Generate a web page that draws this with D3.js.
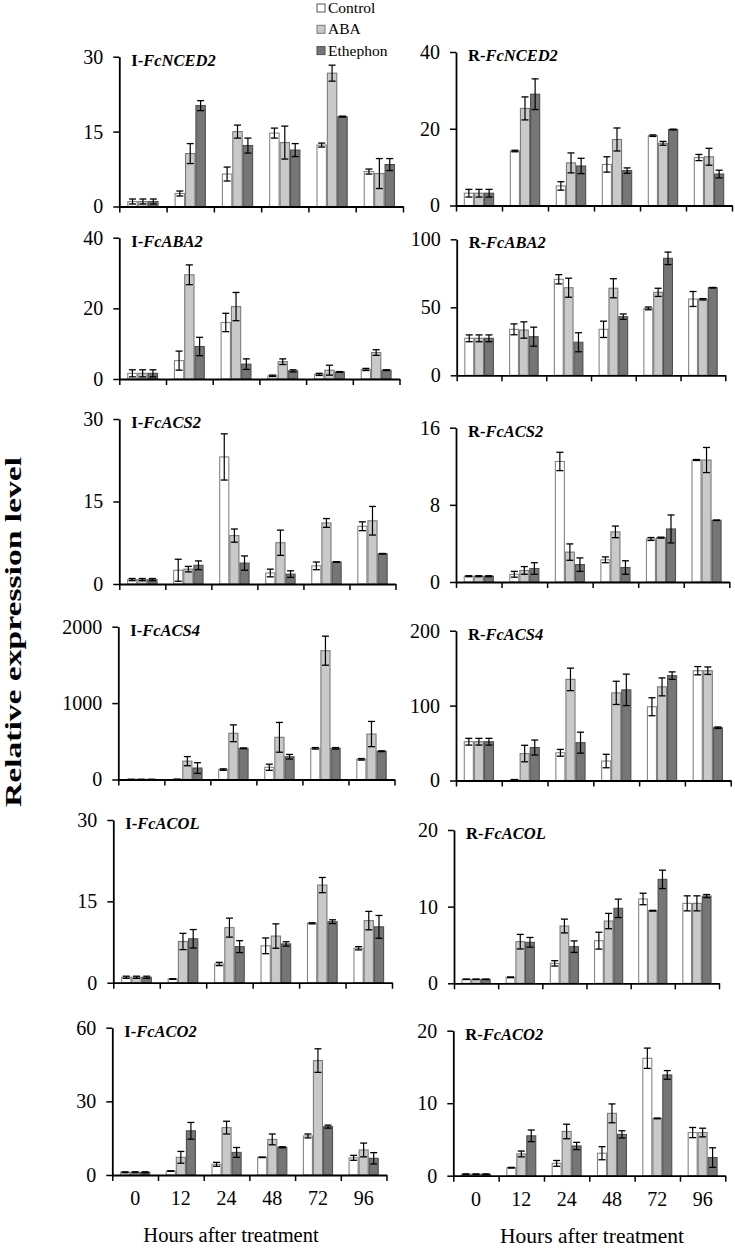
<!DOCTYPE html>
<html><head><meta charset="utf-8">
<script src="https://cdn.jsdelivr.net/npm/d3@7/dist/d3.min.js"></script>
<style>
html,body{margin:0;padding:0;background:#fff;}
svg text{font-family:"Liberation Serif","Times New Roman",serif;fill:#000;}
</style></head>
<body>
<svg id="chart" width="735" height="1249"></svg>
<script>
const categories = ["0","12","24","48","72","96"];
const seriesNames = ["Control","ABA","Ethephon"];

// Panel values: [Control, ABA, Ethephon] x hours
const iNCED2Mean = [[1,2.6,6.5,14.7,12.3,7.0],[1,10.6,15.0,12.8,26.7,6.6],[1,20.2,12.2,11.3,18.0,8.4]];
const iNCED2Err  = [[0.5,0.5,1.4,1.0,0.4,0.5],[0.5,2.0,1.3,3.3,1.6,3.0],[0.5,1.0,1.5,1.3,0.1,1.2]];
const rNCED2Mean = [[3.2,14.2,5.1,10.7,18.2,12.5],[3.2,25.3,11.1,17.2,16.2,12.7],[3.2,29.0,10.3,9.1,19.8,8.2]];
const rNCED2Err  = [[1,0.2,1.1,2,0.2,0.8],[1,3,2.6,3,0.5,2.2],[1,4,2,0.7,0.1,1]];
const iABA2Mean = [[1.6,5.2,16,0.9,1.3,2.7],[1.6,29.5,20.5,4.9,2.5,7.5],[1.6,9.2,4.2,2.3,2.0,2.5]];
const iABA2Err  = [[1,2.7,2.6,0.2,0.3,0.3],[1,2.8,4,0.8,1.4,0.8],[1,2.6,1.5,0.3,0.1,0.1]];
const rABA2Mean = [[27.2,33.8,70.6,33.8,49.2,56.1],[27.2,33.3,64.4,64,61,55.9],[27.2,28.4,24.3,43.1,86,64.4]];
const rABA2Err  = [[2.5,4,3.4,6,1,5.5],[2.5,6,7,7,3,0.5],[2.5,7,7,2,4.6,0.2]];
const iACS2Mean = [[0.8,2.5,23.1,2.0,3.3,10.5],[0.8,2.7,8.8,7.5,11.1,11.5],[0.8,3.4,3.8,1.8,4.0,5.5]];
const iACS2Err  = [[0.2,2,4.2,0.7,0.7,0.8],[0.2,0.5,1.2,2.3,0.8,2.6],[0.2,0.8,1.3,0.6,0.05,0.05]];
const rACS2Mean = [[0.6,0.8,12.5,2.3,4.46,12.65],[0.6,1.2,3.1,5.2,4.6,12.65],[0.6,1.4,1.8,1.5,5.5,6.4]];
const rACS2Err  = [[0.05,0.3,0.95,0.3,0.15,0.05],[0.05,0.4,0.85,0.6,0.05,1.3],[0.05,0.6,0.7,0.7,1.45,0.02]];
const iACS4Mean = [[1,2,130,160,408,264],[1,240,605,552,1686,595],[1,150,408,298,408,370]];
const iACS4Err  = [[0,0,10,40,10,10],[0,60,110,195,190,165],[0,70,5,30,10,5]];
const rACS4Mean = [[51.8,1,37,26,98.5,146.6],[51.8,36,135,117,125,146.6],[51.8,44,50.5,121,140,70.5]];
const rACS4Err  = [[4.5,0.3,4.5,9,12,5.5],[4.5,11,15,15.5,12,5],[4.5,10,14,21,5,1]];
const iACOLMean = [[1.0,0.68,3.45,6.8,10.95,6.35],[1.0,7.6,10.15,8.6,18.0,11.45],[1.0,8.1,6.65,7.15,11.25,10.3]];
const iACOLErr  = [[0.2,0.05,0.3,1.45,0.1,0.3],[0.2,1.5,1.75,2.25,1.4,1.7],[0.2,1.7,1.1,0.4,0.35,2.1]];
const rACOLMean = [[0.52,0.78,2.6,5.56,11.0,10.43],[0.52,5.43,7.47,8.12,9.47,10.43],[0.52,5.35,4.78,9.78,13.56,11.38]];
const rACOLErr  = [[0.03,0.05,0.35,1.1,0.75,0.98],[0.03,0.95,0.9,1.0,0.05,0.98],[0.03,0.63,0.75,1.2,1.2,0.2]];
const iACO2Mean = [[1.1,1.6,4.35,7.2,15.9,7.0],[1.1,7.2,19.3,14.5,46.6,10.2],[1.1,18.0,9.2,11.3,19.7,6.8]];
const iACO2Err  = [[0.2,0.1,0.8,0.1,0.8,1],[0.2,2.4,2.6,2.2,4.8,2.8],[0.2,3.4,2,0.2,0.6,2.3]];
const rACO2Mean = [[0.2,1.1,1.7,3.1,16.2,5.95],[0.2,3.0,6.1,8.6,7.9,5.95],[0.2,5.5,4.1,5.7,13.9,2.5]];
const rACO2Err  = [[0.05,0.05,0.4,0.9,1.4,0.7],[0.05,0.4,1,1.3,0.05,0.6],[0.05,0.8,0.5,0.5,0.6,1.35]];

const panelTitles = [["I-","FcNCED2"],["R-","FcNCED2"],["I-","FcABA2"],["R-","FcABA2"],["I-","FcACS2"],["R-","FcACS2"],["I-","FcACS4"],["R-","FcACS4"],["I-","FcACOL"],["R-","FcACOL"],["I-","FcACO2"],["R-","FcACO2"]];
const yTickSets = [[0,15,30],[0,20,40],[0,20,40],[0,50,100],[0,15,30],[0,8,16],[0,1000,2000],[0,100,200],[0,15,30],[0,10,20],[0,30,60],[0,10,20]];
const means = [iNCED2Mean,rNCED2Mean,iABA2Mean,rABA2Mean,iACS2Mean,rACS2Mean,iACS4Mean,rACS4Mean,iACOLMean,rACOLMean,iACO2Mean,rACO2Mean];
const errs  = [iNCED2Err,rNCED2Err,iABA2Err,rABA2Err,iACS2Err,rACS2Err,iACS4Err,rACS4Err,iACOLErr,rACOLErr,iACO2Err,rACO2Err];

// layout: [x0, x1, yTop, yZero]
const layout = [
  [119.3,403,56.7,206.5],[456,732,52,205.5],
  [119.3,399.5,237.7,379],[456.7,725.3,239.3,375.3],
  [119.3,395.5,419,584],[456,729.3,427.7,582],
  [118.3,394.5,626.7,779.5],[456,730.7,630.7,780.5],
  [113.3,392,820,982.7],[454,719,830,983.3],
  [112.3,386.5,1027.7,1175],[453.3,725.3,1030.7,1175.7]
];
const fills = ["#ffffff","#c9c9c9","#767676"];
const strokes = ["#858585","#7a7a7a","#4f4f4f"];

const svg = d3.select("#chart");

layout.forEach((L,pi)=>{
  const [x0,x1,yTop,y0] = L;
  const ticks = yTickSets[pi];
  const g = svg.append("g");
  const y = d3.scaleLinear().domain([0,ticks[2]]).range([y0,yTop]);
  const xb = d3.scaleBand().domain(categories).range([x0,x1]).paddingInner(0.34).paddingOuter(0.17);
  const xs = d3.scaleBand().domain(seriesNames).range([0,xb.bandwidth()]);
  const xLin = d3.scaleLinear().domain([0,categories.length]).range([x0,x1]);

  const data = [];
  seriesNames.forEach((s,si)=>categories.forEach((c,ci)=>{
    data.push({s,si,c,v:means[pi][si][ci],e:errs[pi][si][ci]});
  }));

  g.selectAll("rect.bar").data(data).enter().append("rect")
    .attr("x",d=>xb(d.c)+xs(d.s)+0.5)
    .attr("width",xs.bandwidth()-1)
    .attr("y",d=>y(d.v))
    .attr("height",d=>y(0)-y(d.v))
    .attr("fill",d=>fills[d.si]).attr("stroke",d=>strokes[d.si]).attr("stroke-width",1.1);

  const eb = g.selectAll("g.err").data(data).enter().append("g");
  const cx = d=>xb(d.c)+xs(d.s)+xs.bandwidth()/2;
  eb.append("line").attr("x1",cx).attr("x2",cx)
    .attr("y1",d=>y(d.v+d.e)).attr("y2",d=>y(Math.max(0,d.v-d.e)))
    .attr("stroke","#000").attr("stroke-width",1.2);
  [1,-1].forEach(sgn=>{
    eb.append("line").attr("x1",d=>cx(d)-3.5).attr("x2",d=>cx(d)+3.5)
      .attr("y1",d=>y(Math.max(0,d.v+sgn*d.e))).attr("y2",d=>y(Math.max(0,d.v+sgn*d.e)))
      .attr("stroke","#000").attr("stroke-width",1.3);
  });

  // y axis
  const ya = g.append("g").attr("transform",`translate(${x0},0)`)
    .call(d3.axisLeft(y).tickValues(ticks).tickFormat(d3.format("d")).tickSize(6).tickSizeOuter(0).tickPadding(10));
  ya.attr("font-family",null);
  ya.select(".domain").attr("stroke","#000").attr("stroke-width",1.8);
  ya.selectAll(".tick line").attr("stroke","#000").attr("stroke-width",1.5);
  ya.selectAll(".tick text").style("font-size","20px");

  // x axis with boundary ticks
  const xa = g.append("g").attr("transform",`translate(0,${y0})`)
    .call(d3.axisBottom(xLin).tickValues(d3.range(categories.length+1)).tickFormat("").tickSize(6).tickSizeOuter(0));
  xa.select(".domain").attr("stroke","#000").attr("stroke-width",1.8);
  xa.selectAll(".tick line").attr("stroke","#000").attr("stroke-width",1.5);

  if (pi>=10){
    const xl = g.append("g").attr("transform",`translate(0,${y0})`)
      .call(d3.axisBottom(xb).tickSize(0).tickPadding(16));
    xl.attr("font-family",null);
    xl.select(".domain").remove();
    xl.selectAll(".tick text").style("font-size","20px");
  }

  // title
  const t = g.append("text").attr("x",x0+12).attr("y",yTop+9)
    .style("font-size","16.5px").style("font-weight","bold");
  t.append("tspan").text(panelTitles[pi][0]);
  t.append("tspan").style("font-style","italic").text(panelTitles[pi][1]);
});

// x axis titles
svg.append("text").attr("x",231).attr("y",1242).attr("text-anchor","middle").style("font-size","20.5px").text("Hours after treatment");
svg.append("text").attr("x",592).attr("y",1243).attr("text-anchor","middle").style("font-size","21.5px").text("Hours after treatment");

// y title
svg.append("text").attr("transform","translate(21,632) rotate(-90)").attr("text-anchor","middle")
  .attr("textLength",350).attr("lengthAdjust","spacingAndGlyphs")
  .style("font-size","24px").style("font-weight","bold").text("Relative expression level");

// legend
const lg = svg.append("g");
seriesNames.forEach((s,i)=>{
  lg.append("rect").attr("x",317).attr("y",4+i*21.3).attr("width",8).attr("height",8)
    .attr("fill",fills[i]).attr("stroke",i===0?"#555":strokes[i]).attr("stroke-width",1);
  lg.append("text").attr("x",328).attr("y",13+i*21.3).style("font-size","15.5px").text(s);
});
</script>
</body></html>
